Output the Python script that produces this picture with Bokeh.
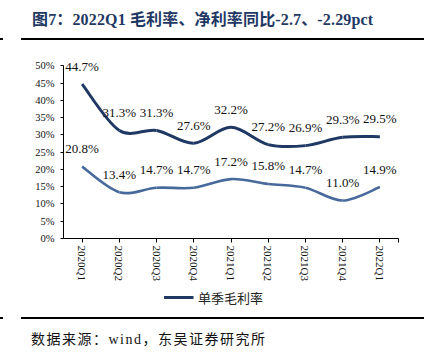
from bokeh.plotting import figure
from bokeh.models import (ColumnDataSource, Legend, LegendItem, FixedTicker, Range1d, Div)
from bokeh.layouts import column
from bokeh.core.properties import value
from bokeh.embed import file_html
from bokeh.resources import INLINE

quarters = ["2020Q1", "2020Q2", "2020Q3", "2020Q4", "2021Q1", "2021Q2", "2021Q3", "2021Q4", "2022Q1"]
gross_margin = [44.7, 31.3, 31.3, 27.6, 32.2, 27.2, 26.9, 29.3, 29.5]
net_margin = [20.8, 13.4, 14.7, 14.7, 17.2, 15.8, 14.7, 11.0, 14.9]
y_ticks = [0, 5, 10, 15, 20, 25, 30, 35, 40, 45, 50]

title_text = "图7：2022Q1 毛利率、净利率同比-2.7、-2.29pct"
source_text = "数据来源：wind，东吴证券研究所"
legend_text = "单季毛利率"

NAVY = "#1F3864"
BLUE = "#47699C"
CSS_SERIF = "'Times New Roman','Liberation Serif','Noto Sans CJK SC',serif"

p = figure(width=430, height=240, output_backend="svg", toolbar_location=None,
           x_range=Range1d(-0.5, 8.5), y_range=Range1d(0, 53),
           min_border_left=63, min_border_right=32, min_border_top=10, min_border_bottom=47)
p.outline_line_color = None
p.xgrid.visible = False
p.ygrid.visible = False
p.background_fill_color = "white"
p.border_fill_color = "white"


def smooth_segments(vals):
    n = len(vals)
    out = dict(x0=[], y0=[], x1=[], y1=[], cx0=[], cy0=[], cx1=[], cy1=[])
    for i in range(n - 1):
        a, b = max(i - 1, 0), min(i + 2, n - 1)
        out["x0"].append(i); out["y0"].append(vals[i])
        out["x1"].append(i + 1); out["y1"].append(vals[i + 1])
        out["cx0"].append(i + (i + 1 - a) / 6); out["cy0"].append(vals[i] + (vals[i + 1] - vals[a]) / 6)
        out["cx1"].append(i + 1 - (b - i) / 6); out["cy1"].append(vals[i + 1] - (vals[b] - vals[i]) / 6)
    return out


g_src = ColumnDataSource(smooth_segments(gross_margin))
n_src = ColumnDataSource(smooth_segments(net_margin))
p.bezier(x0="x0", y0="y0", x1="x1", y1="y1", cx0="cx0", cy0="cy0", cx1="cx1", cy1="cy1",
         source=g_src, line_color=NAVY, line_width=3)
p.bezier(x0="x0", y0="y0", x1="x1", y1="y1", cx0="cx0", cy0="cy0", cx1="cx1", cy1="cy1",
         source=n_src, line_color=BLUE, line_width=2.6)

xs = list(range(len(quarters)))
for vals in (gross_margin, net_margin):
    p.text(x=xs, y=vals, text=[f"{v:.1f}%" for v in vals], text_align="center",
           text_baseline="middle", y_offset=-18, text_font=value("Liberation Serif"),
           text_font_size="13px", text_color="#111111")

# axes
p.xaxis.ticker = FixedTicker(ticks=xs + [8.5])
overrides = {i: q for i, q in enumerate(quarters)}
overrides[8.5] = ""
p.xaxis.major_label_overrides = overrides
p.xaxis.major_label_orientation = "vertical"
p.xaxis.major_label_text_font = "Liberation Serif"
p.xaxis.major_label_text_font_size = "11px"
p.xaxis.major_label_text_color = "#111111"
p.xaxis.major_tick_out = 4
p.xaxis.major_tick_in = 0
p.xaxis.minor_tick_line_color = None
p.xaxis.major_label_standoff = 3
p.xaxis.axis_line_color = "#000000"
p.xaxis.major_tick_line_color = "#000000"

p.yaxis.ticker = FixedTicker(ticks=y_ticks)
p.yaxis.bounds = (0, 50)
p.yaxis.major_label_overrides = {t: f"{t}%" for t in y_ticks}
p.yaxis.major_label_text_font = "Liberation Serif"
p.yaxis.major_label_text_font_size = "10.5px"
p.yaxis.major_label_text_color = "#111111"
p.yaxis.major_tick_out = 3
p.yaxis.major_tick_in = 0
p.yaxis.minor_tick_line_color = None
p.yaxis.major_label_standoff = 6
p.yaxis.axis_line_color = "#000000"
p.yaxis.major_tick_line_color = "#000000"

# legend strip (only the gross-margin series is listed, as in the reference);
# the key renderer holds the gross-margin data but its ranges keep it out of view
lg = figure(width=430, height=24, output_backend="svg", toolbar_location=None,
            x_range=Range1d(100, 101), y_range=Range1d(100, 101), min_border=0,
            x_axis_location=None, y_axis_location=None)
lg.outline_line_color = None
lg.xgrid.visible = False
lg.ygrid.visible = False
lg.border_fill_color = "white"
lg.background_fill_color = "white"
r_key = lg.line(x=xs, y=gross_margin, line_color=NAVY, line_width=3)
legend = Legend(items=[LegendItem(label=legend_text, renderers=[r_key])],
                location="center", orientation="horizontal", padding=0, margin=0,
                glyph_width=30, glyph_height=13, label_height=13, label_width=100,
                label_standoff=5,
                label_text_font="Noto Sans CJK SC", label_text_font_size="13px",
                label_text_color="#222222", border_line_color=None, background_fill_alpha=0)
lg.add_layout(legend, "center")

title_div = Div(width=430, height=45, text=(
    '<div style="position:relative;width:430px;height:45px;">'
    f'<div style="position:absolute;left:32px;top:9px;white-space:nowrap;font-family:{CSS_SERIF};'
    f'font-weight:bold;font-size:16px;letter-spacing:0.15px;line-height:22px;color:{NAVY};">{title_text}</div>'
    '<div style="position:absolute;left:21px;top:38px;width:403px;height:2px;background:#000;"></div>'
    '<div style="position:absolute;left:0px;top:38px;width:3px;height:1.5px;background:#000;"></div>'
    '</div>'))

source_div = Div(width=430, height=47, text=(
    '<div style="position:relative;width:430px;height:47px;">'
    '<div style="position:absolute;left:21px;top:8px;width:403px;height:2px;background:#000;"></div>'
    '<div style="position:absolute;left:0px;top:8px;width:3px;height:1.5px;background:#000;"></div>'
    f'<div style="position:absolute;left:31px;top:21px;white-space:nowrap;font-family:{CSS_SERIF};'
    f'font-size:14px;letter-spacing:1.5px;line-height:20px;color:#111;">{source_text}</div>'
    '</div>'))

for m in (title_div, p, lg, source_div):
    m.margin = (0, 0, 0, 0)

layout = column(title_div, p, lg, source_div, spacing=0)
layout.margin = (0, 0, 0, 0)

open("out.html", "w").write(file_html(layout, INLINE))
